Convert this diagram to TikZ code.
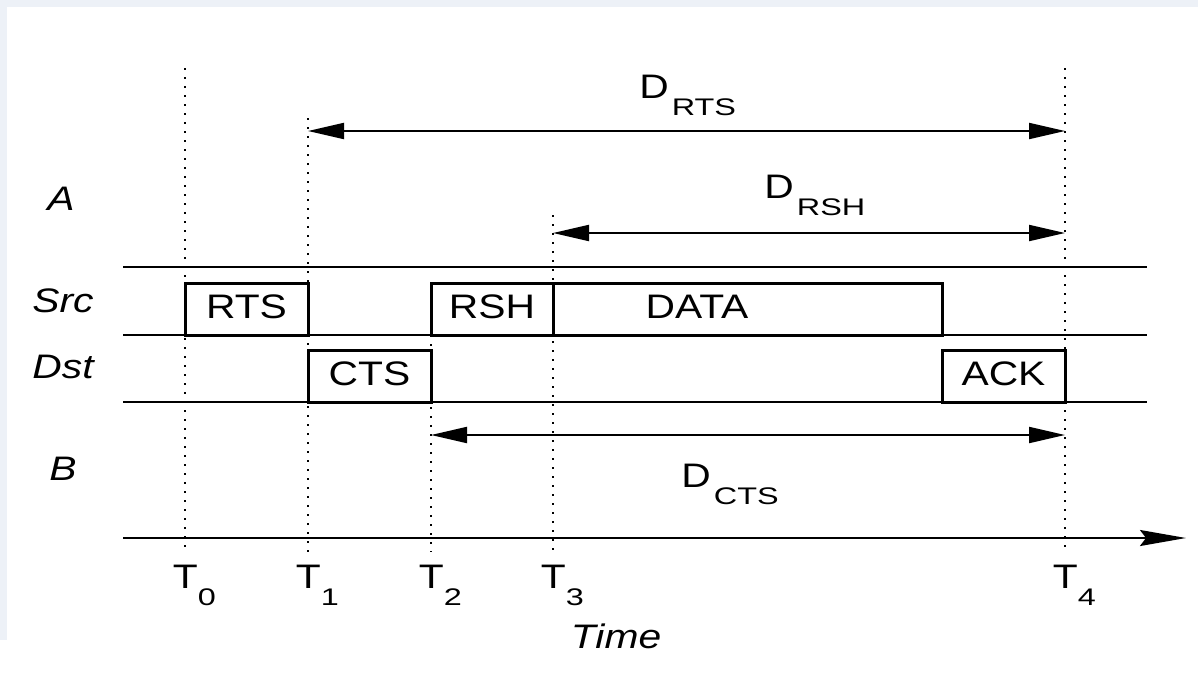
\documentclass[tikz,border=0pt]{standalone}
\usepackage{fontspec}
\setmainfont{Liberation Sans}[FakeStretch=1.2]
\newfontfamily\subfont{Liberation Sans}[FakeStretch=1.35]
\usetikzlibrary{arrows.meta}
\definecolor{framebg}{RGB}{237,241,247}
% small subscript set well below the baseline
\newcommand{\lowsub}[3][1.5pt]{#2\hspace{#1}\raisebox{-8.5pt}{\subfont\fontsize{12}{14}\selectfont #3}}
\tikzset{
  lane/.style={line width=0.9pt},
  tline/.style={line width=1.2pt, dash pattern=on 1.2pt off 3.3pt},
  slot/.style={draw, line width=1.5pt, minimum height=26pt, text depth=2pt},
  span/.style={line width=1pt, {Triangle[length=18pt,width=8pt]}-{Triangle[length=18pt,width=8pt]}},
  axis/.style={line width=1pt, -{Stealth[length=23pt,width=8pt,inset=3pt]}},
  who/.style={anchor=base, font=\fontsize{17}{20}\selectfont\itshape},
}
\begin{document}
\begin{tikzpicture}[x=0.5pt, y=-0.5pt, every node/.style={inner sep=0pt, font=\fontsize{17}{20}\selectfont}]
  \useasboundingbox (0,0) rectangle (1198,680);
  \fill[framebg] (0,0) rectangle (1198,7);
  \fill[framebg] (0,0) rectangle (7,640);

  % time instants
  \foreach \n/\x/\top in {0/185/68,1/308/118,2/431/335,3/553/215,4/1065/68}{
    \draw[tline] (\x,\top) -- (\x,552);
    \node[anchor=base west] (t\n) at (\x-12.5,588) {\lowsub[0pt]{T}{\n}};
  }
  \foreach \y in {267,335,402}
    \draw[lane] (123,\y) -- (1147,\y);

  \node[slot, minimum width=61.5pt] (rts) at (246.5,309) {RTS};
  \node[slot, minimum width=61.5pt] (cts) at (369.5,376) {CTS};
  \node[slot, minimum width=61pt] (rsh) at (492,309) {RSH};
  \node[slot, minimum width=194.5pt] (data) at (747.5,309) {};
  \node[anchor=base] (datatxt) at (697,318) {DATA};
  \node[slot, minimum width=61.5pt] (ack) at (1003.5,376) {ACK};

  \coordinate (rtsa) at (308,131);  \coordinate (rtsb) at (1065,131);
  \coordinate (rsha) at (553,233);  \coordinate (rshb) at (1065,233);
  \coordinate (ctsa) at (431,435);  \coordinate (ctsb) at (1065,435);
  \draw[span] (rtsa) -- (rtsb);
  \draw[span] (rsha) -- (rshb);
  \draw[span] (ctsa) -- (ctsb);
  \node[anchor=base west] (drts) at (639,98) {\lowsub{D}{RTS}};
  \node[anchor=base west] (drsh) at (764,198) {\lowsub{D}{RSH}};
  \node[anchor=base west] (dcts) at (681,487) {\lowsub{D}{CTS}};

  \node[who] (a) at (61,210) {A};
  \node[who] (src) at (63,312) {Src};
  \node[who] (dst) at (63,378) {Dst};
  \node[who] (b) at (63,480) {B};

  \coordinate (ax0) at (123,538); \coordinate (ax1) at (1186,538);
  \draw[axis] (ax0) -- (ax1);
  \node[who] (time) at (616,648) {Time};
\end{tikzpicture}
\end{document}
